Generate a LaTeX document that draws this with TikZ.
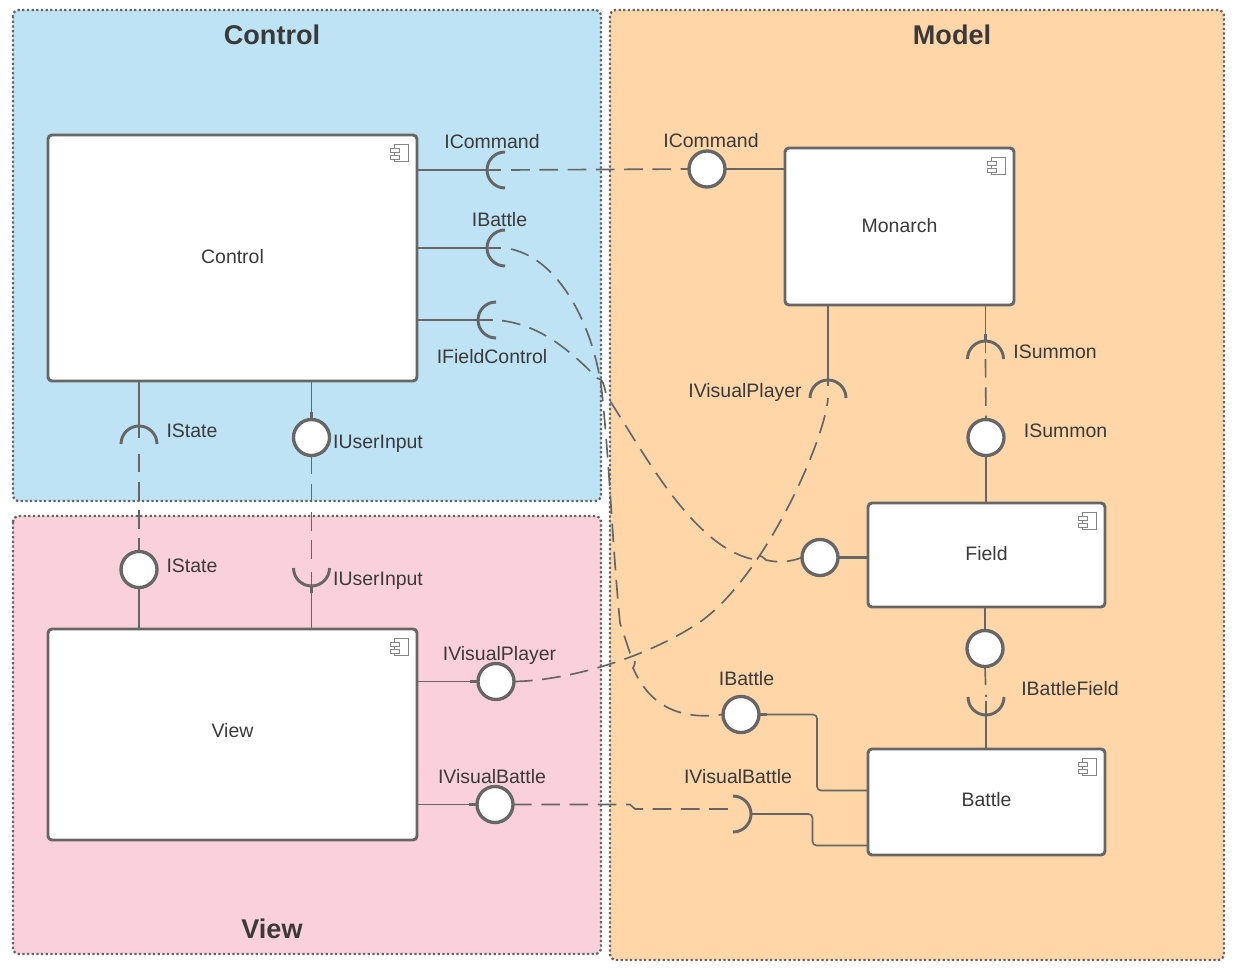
\documentclass[tikz,border=0pt]{standalone}
\usepackage{fontspec}
\setmainfont{Liberation Sans}
\definecolor{ink}{HTML}{3A3A3A}
\definecolor{ln}{HTML}{666666}
\definecolor{panelblue}{HTML}{BDE3F5}
\definecolor{panelorange}{HTML}{FFD6A8}
\definecolor{panelpink}{HTML}{FBD0DD}
\tikzset{
  panel/.style={draw=ln,line width=1.7pt,dash pattern=on 1.7pt off 1.8pt,rounded corners=4.5pt},
  comp/.style={draw=ln,fill=white,line width=2.2pt,rounded corners=3pt,inner sep=0pt,outer sep=0pt,font=\fontsize{14.6}{17}\selectfont,text=ink},
  lolli/.style={circle,draw=ln,fill=white,line width=2.5pt,minimum size=27pt,inner sep=0pt,outer sep=0pt},
  ghost/.style={lolli,draw=none,fill=none},
  lbl/.style={anchor=base,inner sep=0pt,font=\fontsize{14.6}{17}\selectfont,text=ink},
  ttl/.style={anchor=base,inner sep=0pt,font=\bfseries\fontsize{20.3}{24}\selectfont,text=ink},
  solidln/.style={draw=ln,line width=1.2pt},
  stub/.style={draw=ln,line width=2.2pt},
  heavyln/.style={draw=ln,line width=1.7pt},
  dashln/.style={draw=ln,line width=1.25pt,dash pattern=on 14pt off 7.2pt},
  gapshort/.style={dash phase=16.6pt},
  gaplong/.style={dash phase=14pt},
  sock/.style={draw=ln,line width=2.2pt},
  iconln/.style={draw=ln!80,line width=.5pt,fill=white},
}
\newcommand{\sockarc}[2]{\draw[sock,shift={(#1)},rotate=#2] (0,-18) .. controls (-9.94,-18) and (-18,-9.94) .. (-18,0) .. controls (-18,9.94) and (-9.94,18) .. (0,18);}
\newcommand{\compicon}[1]{\begin{scope}[shift={(#1.north east)}]
  \draw[iconln] (-23,9) rectangle (-9,26);
  \draw[iconln] (-27,13) rectangle (-18,17);
  \draw[iconln] (-27,20) rectangle (-18,24);
\end{scope}}
\begin{document}
\begin{tikzpicture}[x=0.75pt,y=-0.75pt]
\useasboundingbox (0,0) rectangle (1243,970);
\fill[white] (0,0) rectangle (1243,970);
% panels
\path[panel,fill=panelblue] (13,10) rectangle (601,501);
\path[panel,fill=panelpink] (13,516) rectangle (601,954);
\path[panel,fill=panelorange] (610,10) rectangle (1224,960);
\node[ttl] (tc) at (272,45) {Control};
\node[ttl] (tm) at (952,45) {Model};
\node[ttl] (tv) at (272,938) {View};
% sockets
\coordinate (sCmd) at (505,170);
\coordinate (sBat) at (505,248);
\coordinate (sFld) at (496,320);
\coordinate (sSta) at (139,444);
\coordinate (sUsr) at (311.5,568);
\coordinate (sVP) at (828,398);
\coordinate (sSum) at (985.5,359);
\coordinate (sBF) at (986,697);
\coordinate (sVB) at (733,814);
% crossing and bend points
\coordinate (xa) at (602,393);
\coordinate (xb) at (620,623);
\coordinate (xc) at (597,378);
\coordinate (xd) at (606,395);
\coordinate (xe) at (752,559);
\coordinate (xf) at (766,560);
\coordinate (xg) at (630,653);
\coordinate (xh) at (633,668);
\coordinate (xi) at (630,804.5);
\coordinate (xj) at (635,809);
\coordinate (xk) at (700,622);
\coordinate (bA) at (817,714.5);
\coordinate (bB) at (817,790.5);
\coordinate (bC) at (812.5,814);
\coordinate (bD) at (812.5,845.5);
\coordinate (sVBback) at (751,814);
% boxes
\node[comp,minimum width=276.75pt,minimum height=184.5pt] (ctrl) at (232.5,258) {\raisebox{3pt}{Control}};
\node[comp,minimum width=171.75pt,minimum height=117.75pt] (mon) at (899.5,226.5) {\raisebox{1.6pt}{Monarch}};
\node[comp,minimum width=177.75pt,minimum height=78pt] (fld) at (986.5,555) {\raisebox{3pt}{Field}};
\node[comp,minimum width=177.75pt,minimum height=79.5pt] (bat) at (986.5,802) {\raisebox{4.5pt}{Battle}};
\node[comp,minimum width=276.75pt,minimum height=158.25pt] (view) at (232.5,734.5) {\raisebox{6pt}{View}};
\compicon{ctrl}\compicon{mon}\compicon{fld}\compicon{bat}\compicon{view}
% named first, so that connectors can name them; drawn on top below
\path (707,169) node[ghost] (lCmd) {};
\path (311.5,437.5) node[ghost] (lUsr) {};
\path (986,437.5) node[ghost] (lSum) {};
\path (139,569.5) node[ghost] (lSta) {};
\path (820,557.5) node[ghost] (lFld) {};
\path (985,648.5) node[ghost] (lBF) {};
\path (496,681.5) node[ghost] (lVP) {};
\path (495,804.5) node[ghost] (lVB) {};
\path (741,714.5) node[ghost] (lBat) {};
% dashed connectors
\draw[dashln,gapshort] (sCmd) -- (lCmd.west);
\draw[dashln,gapshort] (sBat) .. controls (560,255) and (595,330) .. (xa)
  .. controls (610,470) and (612,540) .. (xb)
  -- (xg) .. controls (636,656) and (636,664) .. (xh)
  .. controls (645,695) and (668,722) .. (lBat.west);
\draw[dashln,gapshort] (sFld) .. controls (535,323) and (565,345) .. (xc)
  .. controls (603,378) and (605,388) .. (xd)
  .. controls (640,445) and (690,545) .. (xe)
  .. controls (756,554) and (760,554) .. (xf)
  .. controls (778,563) and (790,562) .. (lFld.west);
\draw[dashln] (lVP.east) .. controls (560,681) and (640,662) .. (xk)
  .. controls (765,576) and (825,440) .. (sVP);
\draw[dashln] (lVB.east) -- (xi) -- (xj) -- (sVB |- xj);
\draw[dashln,gaplong] (sSta) -- (lSta.north);
\draw[dashln] (lUsr.south) -- (sUsr);
\draw[dashln] (sSum) -- (lSum.north);
\draw[dashln] (lBF.south) -- (sBF);
% balls
\node[lolli] at (lCmd) {};
\node[lolli] at (lUsr) {};
\node[lolli] at (lSum) {};
\node[lolli] at (lSta) {};
\node[lolli] at (lFld) {};
\node[lolli] at (lBF) {};
\node[lolli] at (lVP) {};
\node[lolli] at (lVB) {};
\node[lolli] at (lBat) {};
% solid connectors
\draw[solidln] (sCmd) ++(-4,0) -- (sCmd -| ctrl.east);
\draw[solidln] (sBat) ++(-4,0) -- (sBat -| ctrl.east);
\draw[solidln] (sFld) ++(-3,0) -- (sFld -| ctrl.east);
\draw[solidln] (lCmd.east) -- (lCmd -| mon.west);
\draw[solidln] (sSta) ++(0,-6) -- (sSta |- ctrl.south);
\draw[solidln] (lUsr.north) -- (lUsr |- ctrl.south);
\draw[solidln] (lSta.south) -- (lSta |- view.north);
\draw[solidln] (sUsr) ++(0,4) -- (sUsr |- view.north);
\draw[solidln] (lVP.west) -- (lVP -| view.east);
\draw[solidln] (lVB.west) -- (lVB -| view.east);
\draw[solidln] (sVP) ++(0,-12) -- (sVP |- mon.south);
\draw[solidln] (sSum) ++(0,-6) -- (sSum |- mon.south);
\draw[heavyln] (lSum.south) -- (lSum |- fld.north);
\draw[heavyln] (lFld.east) -- (lFld -| fld.west);
\draw[heavyln] (lBF.north) -- (lBF |- fld.south);
\draw[solidln] (sBF) ++(0,4) -- (sBF |- bat.north);
\draw[heavyln] (sBF) ++(0,18) -- (sBF |- bat.north);
\draw[solidln,rounded corners=3pt] (lBat.east) -- (bA) -- (bB) -- (bB -| bat.west);
\draw[solidln,rounded corners=3pt] (sVBback) -- (bC) -- (bD) -- (bD -| bat.west);
% stubs next to the ball or socket
\draw[stub] (sCmd) ++(-25,0) -- ++(7,0);
\draw[stub] (sBat) ++(-25,0) -- ++(7,0);
\draw[stub] (sFld) ++(-25,0) -- ++(7,0);
\draw[stub] (sSta) ++(0,-25) -- ++(0,7);
\draw[stub] (sVP) ++(0,-25) -- ++(0,7);
\draw[stub] (sSum) ++(0,-25) -- ++(0,7);
\draw[stub] (sUsr) ++(0,25) -- ++(0,-7);
\draw[stub] (lCmd.east) -- ++(8,0);
\draw[stub] (lVP.west) -- ++(-8,0);
\draw[stub] (lVB.west) -- ++(-8,0);
\draw[stub] (lBat.east) -- ++(8,0);
\draw[stub] (sVBback) -- ++(8,0);
\draw[stub] (lUsr.north) -- ++(0,-8);
\draw[stub] (lSta.south) -- ++(0,8);
% sockets
\sockarc{sCmd}{0}
\sockarc{sBat}{0}
\sockarc{sFld}{0}
\sockarc{sSta}{-90}
\sockarc{sVP}{-90}
\sockarc{sSum}{-90}
\sockarc{sUsr}{90}
\sockarc{sBF}{90}
\sockarc{sVB}{180}
% labels
\node[lbl] (t1) at (492,149) {ICommand};
\node[lbl] (t2) at (711,148) {ICommand};
\node[lbl] (t3) at (499.5,227) {IBattle};
\node[lbl] (t4) at (492,363) {IFieldControl};
\node[lbl] (t5) at (745,397) {IVisualPlayer};
\node[lbl] (t6) at (1055,358) {ISummon};
\node[lbl] (t7) at (1065.5,437) {ISummon};
\node[lbl] (t8) at (192,437) {IState};
\node[lbl] (t9) at (378,448) {IUserInput};
\node[lbl] (t10) at (192,572) {IState};
\node[lbl] (t11) at (378,585) {IUserInput};
\node[lbl] (t12) at (499.5,660) {IVisualPlayer};
\node[lbl] (t13) at (746.5,685) {IBattle};
\node[lbl] (t14) at (1070,695) {IBattleField};
\node[lbl] (t15) at (492,783) {IVisualBattle};
\node[lbl] (t16) at (738,783) {IVisualBattle};
\end{tikzpicture}
\end{document}
